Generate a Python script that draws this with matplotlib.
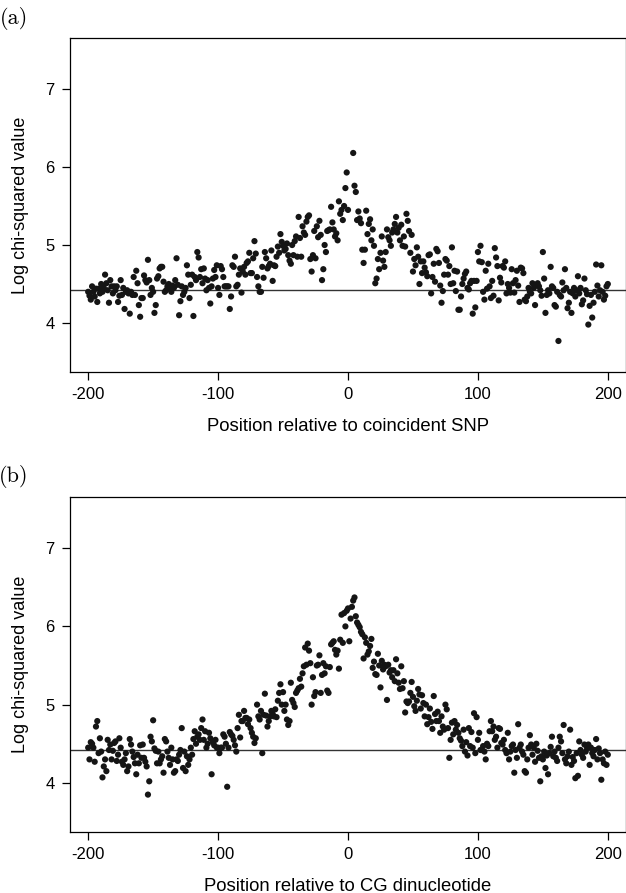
import numpy as np
import matplotlib
matplotlib.use('Agg')
import matplotlib.pyplot as plt

plt.rcParams['font.family'] = ['Liberation Sans', 'DejaVu Sans']

# positions relative to the centre site
pos_left = np.arange(-200, 0)
pos_right = np.arange(0, 201)
nan = np.nan

# (a) log chi-squared around coincident SNP
snp_left = [
    4.40, 4.35, 4.30, 4.47, 4.40, 4.34, 4.44, 4.27, 4.44, 4.38,
    4.50, 4.40, 4.45, 4.62, 4.51, 4.42, 4.26, 4.55, 4.47, 4.38,
    4.47, 4.42, 4.47, 4.27, 4.35, 4.55, 4.36, 4.45, 4.18, 4.40,
    4.42, 4.38, 4.12, 4.40, 4.36, 4.59, 4.36, 4.67, 4.51, 4.23,
    4.08, 4.32, 4.32, 4.61, 4.55, 4.52, 4.81, 4.55, 4.36, 4.45,
    4.40, 4.13, 4.23, 4.57, 4.60, 4.70, 4.72, 4.72, 4.53, 4.40,
    4.42, 4.47, 4.50, 4.45, 4.40, 4.48, 4.45, 4.55, 4.83, 4.49,
    4.10, 4.28, 4.47, 4.36, 4.40, 4.45, 4.74, 4.62, 4.32, 4.49,
    4.62, 4.09, 4.59, 4.55, 4.91, 4.84, 4.59, 4.69, 4.51, 4.70,
    4.57, 4.42, 4.55, 4.45, 4.25, 4.47, 4.57, 4.68, 4.59, 4.74,
    4.45, 4.36, 4.73, 4.69, 4.59, 4.47, 4.47, 4.47, 4.47, 4.18,
    4.34, 4.74, 4.72, 4.85, 4.47, 4.49, 4.62, 4.70, 4.39, 4.66,
    4.72, 4.62, 4.77, 4.79, 4.90, 4.64, 4.64, 4.83, 5.05, 4.89,
    4.59, 4.47, 4.40, 4.40, 4.72, 4.58, 4.91, 4.83, 4.70, 4.73,
    4.76, 4.93, 4.54, 4.74, 4.73, 4.85, 4.98, 4.90, 5.14, 5.04,
    4.99, 4.93, 4.95, 5.02, 4.87, 4.80, 4.76, 5.00, 4.87, 5.05,
    5.11, 4.85, 5.36, 5.09, 4.85, 5.24, 5.16, 5.13, 5.30, 5.36,
    5.38, 4.82, 4.66, 4.87, 5.18, 4.83, 5.24, 5.10, 5.31, 5.13,
    4.55, 4.69, 5.00, 4.91, 5.18, 5.19, 5.20, 5.49, 5.29, 5.20,
    5.11, 5.15, 5.06, 5.56, 5.40, 5.45, 5.32, 5.50, 5.73, 5.93,
]
snp_right = [
    5.45, nan, nan, nan, 6.18, 5.76, 5.68, 5.32, 5.43, 5.34,
    5.28, 4.94, 4.77, 4.94, 5.44, 5.14, 5.27, 5.33, 5.06, 5.20,
    4.99, 4.51, 4.57, 4.82, 4.69, 4.90, 5.11, 4.80, 4.72, 4.91,
    5.20, 5.10, 5.06, 4.99, 5.16, 5.20, 5.27, 5.36, 5.16, 5.22,
    5.06, 5.26, 4.99, 5.11, 4.98, 5.40, 5.31, 5.18, 4.90, 5.13,
    4.66, 4.82, 4.74, 4.97, 4.85, 4.50, 4.79, 4.64, 4.79, 4.71,
    4.65, 4.60, 4.87, 4.88, 4.38, 4.59, 4.76, 4.53, 4.95, 4.92,
    4.77, 4.48, 4.26, 4.41, 4.62, 4.82, 4.80, 4.62, 4.73, 4.50,
    4.97, 4.51, 4.67, 4.41, 4.66, 4.17, 4.17, 4.34, 4.50, 4.57,
    4.63, 4.66, 4.45, 4.43, 4.51, 4.54, 4.12, 4.54, 4.20, 4.54,
    4.91, 4.79, 4.99, 4.78, 4.40, 4.30, 4.67, 4.44, 4.76, 4.47,
    4.32, 4.54, 4.35, 4.96, 4.84, 4.73, 4.29, 4.58, 4.52, 4.73,
    4.71, 4.79, 4.38, 4.50, 4.45, 4.39, 4.69, 4.51, 4.39, 4.55,
    4.67, 4.48, 4.27, 4.71, 4.70, 4.64, 4.30, 4.28, 4.34, 4.45,
    4.40, 4.38, 4.51, 4.45, 4.23, 4.48, 4.51, 4.47, 4.42, 4.35,
    4.91, 4.57, 4.13, 4.36, 4.42, 4.38, 4.72, 4.47, 4.45, 4.23,
    4.21, 4.40, 3.77, 4.36, 4.34, 4.52, 4.42, 4.69, 4.45, 4.19,
    4.26, 4.40, 4.13, 4.38, 4.45, 4.34, 4.42, 4.60, 4.38, 4.45,
    4.24, 4.29, 4.57, 4.42, 4.37, 3.98, 4.22, 4.36, 4.07, 4.26,
    4.40, 4.75, 4.48, 4.34, 4.42, 4.74, 4.40, 4.30, 4.35, 4.47,
    4.50,
]

# (b) log chi-squared around CG dinucleotide
cg_left = [
    4.45, 4.30, 4.52, 4.50, 4.45, 4.27, 4.72, 4.79, 4.38, 4.57,
    4.40, 4.07, 4.21, 4.30, 4.15, 4.55, 4.42, 4.49, 4.30, 4.41,
    4.51, 4.53, 4.28, 4.36, 4.57, 4.45, 4.27, 4.23, 4.30, 4.38,
    4.15, 4.21, 4.56, 4.49, 4.40, 4.33, 4.25, 4.11, 4.36, 4.25,
    4.48, 4.32, 4.49, 4.32, 4.27, 4.21, 3.85, 4.02, 4.59, 4.53,
    4.80, 4.44, 4.41, 4.25, 4.40, 4.25, 4.30, 4.34, 4.13, 4.56,
    4.53, 4.40, 4.32, 4.23, 4.45, 4.30, 4.13, 4.15, 4.30, 4.28,
    4.36, 4.42, 4.70, 4.19, 4.40, 4.15, 4.34, 4.23, 4.30, 4.45,
    4.36, 4.56, 4.66, 4.50, 4.59, 4.62, 4.55, 4.70, 4.81, 4.55,
    4.66, 4.45, 4.50, 4.64, 4.57, 4.11, 4.52, 4.48, 4.55, 4.45,
    4.45, 4.38, 4.45, 4.45, 4.62, 4.59, 4.50, 3.95, 4.45, 4.65,
    4.62, 4.60, 4.55, 4.48, 4.40, 4.70, 4.87, 4.58, 4.79, 4.79,
    4.92, 4.83, 4.83, 4.75, 4.81, 4.70, 4.64, 4.59, 4.51, 4.57,
    5.00, 4.85, 4.81, 4.92, 4.38, 4.87, 5.14, 4.86, 4.72, 4.79,
    4.85, 4.92, 4.88, 4.85, 4.94, 4.84, 5.05, 5.15, 5.26, 5.00,
    5.16, 4.92, 5.00, 4.81, 4.74, 4.79, 5.28, 5.06, 5.02, 4.97,
    5.15, 5.18, 5.21, 5.33, 5.23, 5.40, 5.49, 5.73, 5.51, 5.78,
    5.69, 5.53, 5.00, 5.35, 5.11, 5.16, 5.50, 5.51, 5.63, 5.15,
    5.38, 5.53, 5.40, 5.49, 5.18, 5.15, 5.48, 5.77, 5.79, 5.81,
    5.70, 5.64, 5.69, 5.46, 5.83, 6.15, 5.79, 6.17, 6.00, 6.20,
]
cg_right = [
    6.23, 5.81, 6.10, 6.25, 6.33, 6.37, 6.13, 6.05, 6.02, 5.99,
    5.93, 5.90, 5.59, 5.86, 5.79, 5.64, 5.68, 5.75, 5.84, 5.47,
    5.55, 5.39, 5.38, 5.65, 5.50, 5.22, 5.56, 5.45, 5.51, 5.49,
    5.06, 5.51, 5.41, 5.44, 5.35, 5.44, 5.30, 5.58, 5.40, 5.28,
    5.20, 5.49, 5.21, 5.30, 4.90, 5.04, 5.02, 5.04, 5.15, 5.29,
    5.10, 4.98, 4.92, 5.05, 5.20, 5.13, 4.95, 5.12, 5.02, 4.85,
    5.00, 4.75, 4.84, 4.95, 4.78, 4.69, 5.11, 4.88, 4.79, 4.91,
    4.79, 4.64, 4.85, 4.72, 4.68, 5.00, 4.94, 4.70, 4.32, 4.55,
    4.77, 4.62, 4.79, 4.68, 4.74, 4.64, 4.57, 4.54, 4.47, 4.68,
    4.40, 4.52, 4.35, 4.70, 4.47, 4.65, 4.45, 4.89, 4.38, 4.84,
    4.55, 4.64, 4.42, 4.42, 4.47, 4.40, 4.30, 4.50, 4.47, 4.66,
    4.79, 4.66, 4.72, 4.55, 4.59, 4.45, 4.70, 4.69, 4.51, 4.49,
    4.55, 4.42, 4.38, 4.64, 4.30, 4.40, 4.47, 4.49, 4.13, 4.42,
    4.32, 4.75, 4.45, 4.49, 4.40, 4.36, 4.15, 4.13, 4.30, 4.45,
    4.61, 4.49, 4.36, 4.45, 4.27, 4.50, 4.41, 4.32, 4.02, 4.34,
    4.30, 4.40, 4.19, 4.35, 4.11, 4.38, 4.46, 4.59, 4.34, 4.40,
    4.32, 4.28, 4.45, 4.59, 4.53, 4.38, 4.74, 4.30, 4.25, 4.34,
    4.40, 4.68, 4.23, 4.33, 4.28, 4.06, 4.38, 4.09, 4.53, 4.42,
    4.36, 4.32, 4.49, 4.40, 4.45, 4.49, 4.23, 4.45, 4.38, 4.34,
    4.42, 4.56, 4.30, 4.44, 4.38, 4.04, 4.30, 4.25, 4.40, 4.23,
    4.36,
]

baseline = 4.42
x_ticks = [-200, -100, 0, 100, 200]
y_ticks = [4, 5, 6, 7]
panels = [
    ('(a)', 'Position relative to coincident SNP', snp_left, snp_right),
    ('(b)', 'Position relative to CG dinucleotide', cg_left, cg_right),
]

W, H = 626, 893
fig = plt.figure(figsize=(W / 100, H / 100), dpi=100)
boxes = [(38, 372), (497, 832)]   # top / bottom of each plot box in px

for (tag, xlabel, left, right), (top, bot) in zip(panels, boxes):
    ax = fig.add_axes([70 / W, 1 - bot / H, 556 / W, (bot - top) / H])
    x = np.concatenate([pos_left, pos_right])
    y = np.array(left + right, dtype=float)
    ax.scatter(x, y, s=20, color='#151515', edgecolors='none', zorder=3)
    ax.axhline(baseline, color='#333333', lw=1.0, zorder=2)

    ax.set_xlim(-214, 214)
    ax.set_ylim(3.372, 7.654)
    ax.set_xticks(x_ticks)
    ax.set_xticklabels([str(t) for t in x_ticks])
    ax.set_yticks(y_ticks)
    ax.tick_params(direction='out', length=6, width=0.9, labelsize=12, pad=5)
    for sp in ax.spines.values():
        sp.set_linewidth(0.9)
    ax.set_xlabel(xlabel, fontsize=13.3, labelpad=11)
    ax.set_ylabel('Log chi-squared value', fontsize=13, labelpad=12)

    fig.text(14 / W, 1 - (top - 20) / H, tag, fontsize=16, family='cmr10',
             ha='center', va='center')

fig.savefig('out.png', dpi=100)
